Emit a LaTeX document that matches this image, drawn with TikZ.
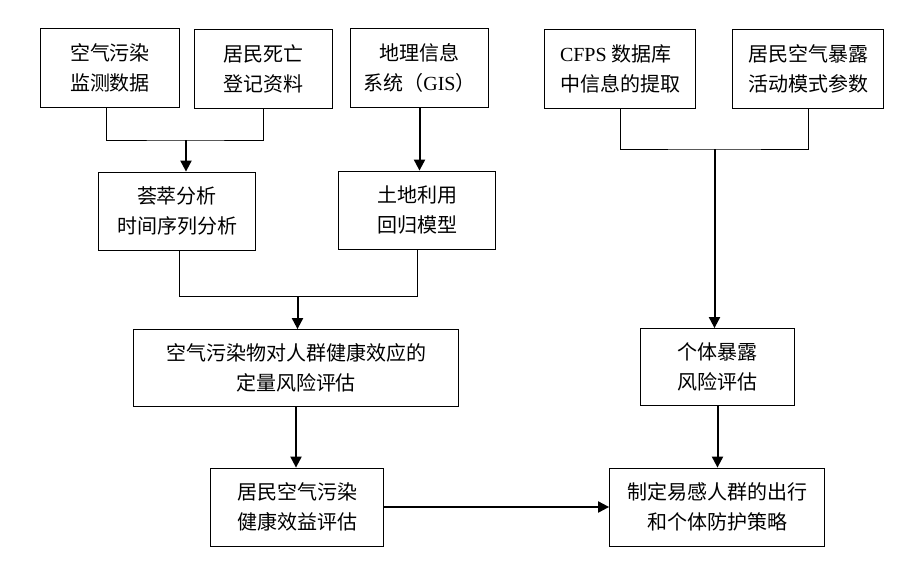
\documentclass[tikz,border=0pt]{standalone}
\usepackage{fontspec}
\setmainfont{Liberation Serif}
\newfontfamily\cjk{Noto Sans CJK SC}
\usetikzlibrary{arrows.meta}

\begin{document}
\begin{tikzpicture}[x=1pt, y=-1pt,
    box/.style = {draw, line width=0.8pt, minimum height=79pt, inner sep=0pt, align=center,
                  font=\cjk\fontsize{20}{29.5}\selectfont},
    link/.style = {line width=0.8pt},
    arr/.style = {line width=2pt, -{Triangle[length=11pt, width=11pt]}}]
    \useasboundingbox (0,0) rectangle (898,565);

    % top row
    \node[box, minimum width=139pt] (air) at (110,68) {空气污染\\监测数据};
    \node[box, minimum width=138pt] (death) at (263,69) {居民死亡\\登记资料};
    \node[box, minimum width=138pt] (gis) at (419.5,68) {地理信息\\系统（{\rmfamily GIS}）};
    \node[box, minimum width=151pt, align=left] (cfps) at (620,69) {{\rmfamily CFPS} 数据库\\中信息的提取};
    \node[box, minimum width=151pt] (act) at (808,69) {居民空气暴露\\活动模式参数};

    % second row
    \node[box, minimum width=157pt, minimum height=78pt] (meta) at (177,211) {荟萃分析\\时间序列分析};
    \node[box, minimum width=157pt, minimum height=78pt] (lur) at (417,210) {土地利用\\回归模型};

    % third row
    \node[box, minimum width=325pt, minimum height=77pt] (qra) at (296,368) {空气污染物对人群健康效应的\\定量风险评估};
    \node[box, minimum width=154pt, minimum height=77pt] (indiv) at (717.5,367) {个体暴露\\风险评估};

    % bottom row
    \node[box, minimum width=173pt, minimum height=78pt] (benefit) at (297,507) {居民空气污染\\健康效益评估};
    \node[box, minimum width=215pt, minimum height=78pt] (strategy) at (717,507) {制定易感人群的出行\\和个体防护策略};

    \coordinate (j1) at (186,140);
    \coordinate (j2) at (714.5,149);
    \coordinate (j3) at (297.5,296.5);

    \draw[link] ([xshift=-4pt]air.south) |- (j1) -| (death.south);
    \draw[arr] (j1) -- (j1 |- meta.north);
    \draw[arr] (gis.south) -- (gis.south |- lur.north);

    \draw[link] (cfps.south) |- (j2) -| (act.south);
    \draw[arr] (j2) -- (j2 |- indiv.north);

    \draw[link] (meta.south) ++(2,0) |- (j3) -| (lur.south);
    \draw[arr] (j3) -- (j3 |- qra.north);

    \draw[arr] (qra.south) -- (qra.south |- benefit.north);
    \draw[arr] (indiv.south) -- (indiv.south |- strategy.north);
    \draw[arr] (benefit.east) -- (benefit.east -| strategy.west);
\end{tikzpicture}
\end{document}
